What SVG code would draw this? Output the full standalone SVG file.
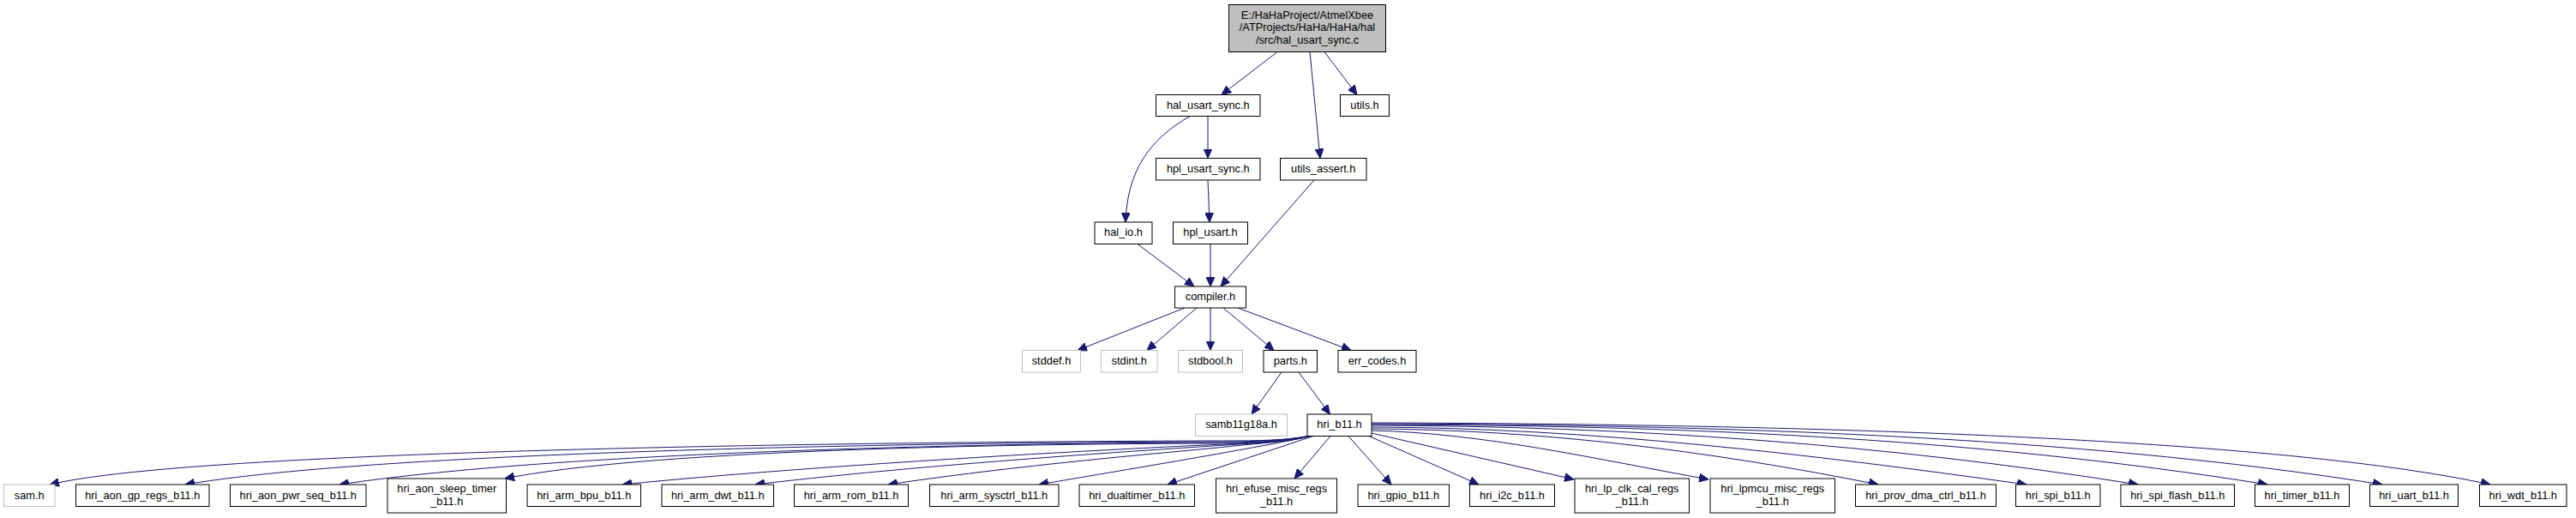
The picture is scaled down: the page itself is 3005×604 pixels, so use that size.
<svg xmlns="http://www.w3.org/2000/svg" width="3005" height="604" viewBox="0 0 3005 604">
<defs>
<style>
.n rect{fill:#ffffff;stroke:#000000;stroke-width:1}
.g rect{fill:#ffffff;stroke:#bfbfbf;stroke-width:1}
.m rect{fill:#bfbfbf;stroke:#000000;stroke-width:1}
text{font-family:"Liberation Sans",Arial,Helvetica,sans-serif;font-size:12.8px;text-anchor:middle;fill:#000000}
#edges path{fill:none;stroke:#191970;stroke-width:1;marker-end:url(#arr)}
</style>
<marker id="arr" markerUnits="userSpaceOnUse" viewBox="0 0 11 10" markerWidth="11" markerHeight="10" refX="11" refY="5" orient="auto">
<path d="M0,0 L11,5 L0,10 z" fill="#191970" stroke="#191970" stroke-width="1"/>
</marker>
</defs>
<rect x="0" y="0" width="3005" height="604" fill="#ffffff"/>

<g id="edges">
<path d="M1490,60.5 L1425,110.5"/>
<path d="M1528,60.5 L1540,184.5"/>
<path d="M1545,60.5 L1583,110.5"/>
<path d="M1409,135.5 L1409,184.5"/>
<path d="M1388,135.5 C1340,163 1315,200 1313,259"/>
<path d="M1409,210 L1411,259"/>
<path d="M1533,210 L1424,334"/>
<path d="M1327,284.5 L1393,334"/>
<path d="M1412,284.5 L1412,334"/>
<path d="M1382,359 L1257,408.5"/>
<path d="M1396,359 L1338,408.5"/>
<path d="M1412,359 L1412,408.5"/>
<path d="M1427,359 L1486,408.5"/>
<path d="M1444,359 L1576,408.5"/>
<path d="M1495,434 L1460,483"/>
<path d="M1515,434 L1551.5,483"/>
<path d="M1526,508.5 C1501,513.5 1465,514 1430,514 S264.7,515.4 58,565"/>
<path d="M1526,508.5 C1501,513.5 1465,515 1430,515 S503,516.2 216,565"/>
<path d="M1526.5,508.5 C1501,514 1465,516 1430,516 S716,517 396,565"/>
<path d="M1527,508.5 C1502,514 1465,517 1430,517 S797,516.4 589,558"/>
<path d="M1527.5,508.5 C1502,514.5 1465,517 1430,518 S992,538.4 726,565"/>
<path d="M1528,508.5 C1503,515 1465,516.5 1430,519 S1096,539.2 881,565"/>
<path d="M1528.5,508.5 C1504,515.5 1465,517 1430,521 S1200,540.4 1036,565"/>
<path d="M1529,508.5 C1480,520 1300,550 1212,565"/>
<path d="M1532,508.5 L1362,565"/>
<path d="M1552,508.5 L1510,558"/>
<path d="M1573,508.5 L1623,565"/>
<path d="M1597,508.5 L1725,565"/>
<path d="M1600,505 L1836,559"/>
<path d="M1600,502 C1731,505 1862,535.4 1993,559"/>
<path d="M1600,500 C1797,501 1994,525.6 2191,565"/>
<path d="M1600,498 C1854.7,499 2109.3,529.3 2364,565"/>
<path d="M1600,496 C1898,497 2196,517.3 2494,565"/>
<path d="M1600,495 C1948,496 2297,509.3 2645,565"/>
<path d="M1600,494 C1993,495 2424,508.2 2779,565"/>
<path d="M1600,493 C2035,494 2643,507.4 2905,565"/>
</g>

<g id="node-main" class="m"><rect x="1433.5" y="5.5" width="183" height="55"/>
<text x="1525" y="21.5">E:/HaHaProject/AtmelXbee</text>
<text x="1525" y="36">/ATProjects/HaHa/HaHa/hal</text>
<text x="1525" y="50.5">/src/hal_usart_sync.c</text></g>
<g id="node-hal_usart_sync_h" class="n"><rect x="1348.5" y="110.5" width="121.5" height="25"/><text x="1409.25" y="126.5">hal_usart_sync.h</text></g>
<g id="node-utils_h" class="n"><rect x="1563.5" y="110.5" width="57" height="25"/><text x="1592" y="126.5">utils.h</text></g>
<g id="node-hpl_usart_sync_h" class="n"><rect x="1348.5" y="184.5" width="121.5" height="25.5"/><text x="1409.25" y="200.5">hpl_usart_sync.h</text></g>
<g id="node-utils_assert_h" class="n"><rect x="1493.5" y="184.5" width="100.5" height="25.5"/><text x="1543.75" y="200.5">utils_assert.h</text></g>
<g id="node-hal_io_h" class="n"><rect x="1277" y="259" width="67" height="25.5"/><text x="1310.5" y="275">hal_io.h</text></g>
<g id="node-hpl_usart_h" class="n"><rect x="1368.5" y="259" width="87" height="25.5"/><text x="1412" y="275">hpl_usart.h</text></g>
<g id="node-compiler_h" class="n"><rect x="1370.5" y="334" width="83" height="25"/><text x="1412" y="350">compiler.h</text></g>
<g id="node-stddef_h" class="g"><rect x="1192.5" y="408.5" width="68" height="25.5"/><text x="1226.5" y="424.5">stddef.h</text></g>
<g id="node-stdint_h" class="g"><rect x="1284.5" y="408.5" width="65.5" height="25.5"/><text x="1317.25" y="424.5">stdint.h</text></g>
<g id="node-stdbool_h" class="g"><rect x="1374.5" y="408.5" width="75" height="25.5"/><text x="1412" y="424.5">stdbool.h</text></g>
<g id="node-parts_h" class="n"><rect x="1474" y="408.5" width="62.5" height="25.5"/><text x="1505.25" y="424.5">parts.h</text></g>
<g id="node-err_codes_h" class="n"><rect x="1561" y="408.5" width="91" height="25.5"/><text x="1606.5" y="424.5">err_codes.h</text></g>
<g id="node-samb11g18a_h" class="g"><rect x="1394.5" y="483" width="107" height="25.5"/><text x="1448" y="499">samb11g18a.h</text></g>
<g id="node-hri_b11_h" class="n"><rect x="1525" y="483" width="75" height="25.5"/><text x="1562.5" y="499">hri_b11.h</text></g>

<g id="node-sam_h" class="g"><rect x="4.5" y="565" width="59.5" height="25.5"/><text x="34.25" y="581.5">sam.h</text></g>
<g id="node-hri_aon_gp_regs_b11_h" class="n"><rect x="88.5" y="565" width="155.5" height="25.5"/><text x="166.25" y="581.5">hri_aon_gp_regs_b11.h</text></g>
<g id="node-hri_aon_pwr_seq_b11_h" class="n"><rect x="268.5" y="565" width="158.5" height="25.5"/><text x="347.75" y="581.5">hri_aon_pwr_seq_b11.h</text></g>
<g id="node-hri_aon_sleep_timer_b11_h" class="n"><rect x="452" y="558" width="138.5" height="40"/><text x="521.25" y="574">hri_aon_sleep_timer</text><text x="521.25" y="589">_b11.h</text></g>
<g id="node-hri_arm_bpu_b11_h" class="n"><rect x="615" y="565" width="132.5" height="25.5"/><text x="681.25" y="581.5">hri_arm_bpu_b11.h</text></g>
<g id="node-hri_arm_dwt_b11_h" class="n"><rect x="772" y="565" width="130.5" height="25.5"/><text x="837.25" y="581.5">hri_arm_dwt_b11.h</text></g>
<g id="node-hri_arm_rom_b11_h" class="n"><rect x="926.5" y="565" width="133" height="25.5"/><text x="993" y="581.5">hri_arm_rom_b11.h</text></g>
<g id="node-hri_arm_sysctrl_b11_h" class="n"><rect x="1084.5" y="565" width="150.5" height="25.5"/><text x="1159.75" y="581.5">hri_arm_sysctrl_b11.h</text></g>
<g id="node-hri_dualtimer_b11_h" class="n"><rect x="1259" y="565" width="134.5" height="25.5"/><text x="1326.25" y="581.5">hri_dualtimer_b11.h</text></g>
<g id="node-hri_efuse_misc_regs_b11_h" class="n"><rect x="1418.5" y="558" width="141" height="40"/><text x="1489" y="574">hri_efuse_misc_regs</text><text x="1489" y="589">_b11.h</text></g>
<g id="node-hri_gpio_b11_h" class="n"><rect x="1584" y="565" width="106.5" height="25.5"/><text x="1637.25" y="581.5">hri_gpio_b11.h</text></g>
<g id="node-hri_i2c_b11_h" class="n"><rect x="1714.5" y="565" width="99" height="25.5"/><text x="1764" y="581.5">hri_i2c_b11.h</text></g>
<g id="node-hri_lp_clk_cal_regs_b11_h" class="n"><rect x="1837" y="558" width="133.5" height="40"/><text x="1903.75" y="574">hri_lp_clk_cal_regs</text><text x="1903.75" y="589">_b11.h</text></g>
<g id="node-hri_lpmcu_misc_regs_b11_h" class="n"><rect x="1995" y="558" width="145.5" height="40"/><text x="2067.75" y="574">hri_lpmcu_misc_regs</text><text x="2067.75" y="589">_b11.h</text></g>
<g id="node-hri_prov_dma_ctrl_b11_h" class="n"><rect x="2164.5" y="565" width="164" height="25.5"/><text x="2246.5" y="581.5">hri_prov_dma_ctrl_b11.h</text></g>
<g id="node-hri_spi_b11_h" class="n"><rect x="2351.5" y="565" width="98.5" height="25.5"/><text x="2400.75" y="581.5">hri_spi_b11.h</text></g>
<g id="node-hri_spi_flash_b11_h" class="n"><rect x="2474" y="565" width="132.5" height="25.5"/><text x="2540.25" y="581.5">hri_spi_flash_b11.h</text></g>
<g id="node-hri_timer_b11_h" class="n"><rect x="2630.5" y="565" width="110" height="25.5"/><text x="2685.5" y="581.5">hri_timer_b11.h</text></g>
<g id="node-hri_uart_b11_h" class="n"><rect x="2764.5" y="565" width="103" height="25.5"/><text x="2816" y="581.5">hri_uart_b11.h</text></g>
<g id="node-hri_wdt_b11_h" class="n"><rect x="2892.5" y="565" width="101.5" height="25.5"/><text x="2943.25" y="581.5">hri_wdt_b11.h</text></g>
</svg>
